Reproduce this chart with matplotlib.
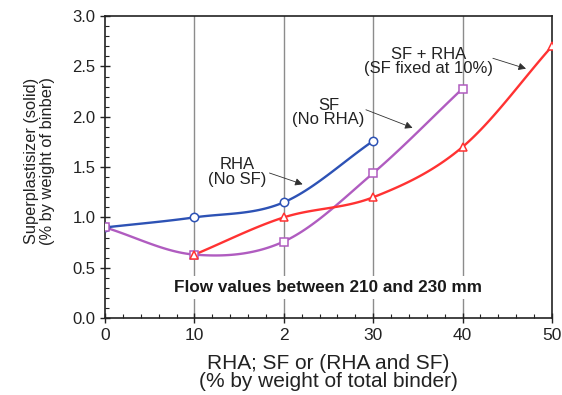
import numpy as np
import matplotlib
matplotlib.use("Agg")
import matplotlib.pyplot as plt
from matplotlib.ticker import MultipleLocator

plt.rcParams['font.family'] = ['Liberation Sans', 'DejaVu Sans']

# data
rha_x = [0, 10, 20, 30]
rha_y = [0.9, 1.0, 1.15, 1.76]
sf_x = [0, 10, 20, 30, 40]
sf_y = [0.9, 0.63, 0.76, 1.44, 2.28]
mix_x = [10, 20, 30, 40, 50]
mix_y = [0.63, 1.0, 1.2, 1.7, 2.7]
xtick_vals = [0, 10, 20, 30, 40, 50]
xtick_labels = ['0', '10', '2', '30', '40', '50']


def smooth(x, y, n=30):
    # catmull-rom curve through the points, only for drawing the line
    x = np.asarray(x, float)
    y = np.asarray(y, float)
    px = np.concatenate([[2 * x[0] - x[1]], x, [2 * x[-1] - x[-2]]])
    py = np.concatenate([[2 * y[0] - y[1]], y, [2 * y[-1] - y[-2]]])
    xs, ys = [], []
    t = np.linspace(0, 1, n)
    for i in range(1, len(px) - 2):
        for p, out in ((px, xs), (py, ys)):
            p0, p1, p2, p3 = p[i - 1], p[i], p[i + 1], p[i + 2]
            out.extend(0.5 * (2 * p1 + (-p0 + p2) * t
                              + (2 * p0 - 5 * p1 + 4 * p2 - p3) * t ** 2
                              + (-p0 + 3 * p1 - 3 * p2 + p3) * t ** 3))
    return xs, ys


fig = plt.figure(figsize=(5.62, 3.95), dpi=100)
ax = fig.add_axes([0.187, 0.195, 0.795, 0.764])

for gx in [10, 20, 30, 40]:
    ax.axvline(gx, color='#8c8c8c', lw=1.0, zorder=1)

series = [
    (rha_x, rha_y, '#2d52b5', 'o'),
    (sf_x, sf_y, '#b05cc0', 's'),
    (mix_x, mix_y, '#ff3232', '^'),
]
for xs, ys, col, mk in series:
    sx, sy = smooth(xs, ys)
    ax.plot(sx, sy, color=col, lw=1.7, zorder=3)
    ax.plot(xs, ys, ls='none', marker=mk, ms=6, mfc='white', mec=col,
            mew=1.1, zorder=4)

ax.text(25.0, 0.3, 'Flow values between 210 and 230 mm', ha='center',
        va='center', fontsize=12.3, fontweight='bold', color='#1a1a1a',
        zorder=2, bbox=dict(facecolor='white', edgecolor='none', pad=3))

arrow = dict(arrowstyle='-|>', color='#303030', lw=0.6, mutation_scale=11)
ax.annotate('', xy=(22.4, 1.32), xytext=(18.1, 1.45), arrowprops=arrow)
ax.text(14.8, 1.45, 'RHA\n(No SF)', ha='center', va='center', fontsize=12,
        linespacing=0.95, color='#222222')
ax.annotate('', xy=(34.7, 1.88), xytext=(28.9, 2.08), arrowprops=arrow)
ax.text(25.0, 2.04, 'SF\n(No RHA)', ha='center', va='center', fontsize=12,
        linespacing=0.95, color='#222222')
ax.annotate('', xy=(47.4, 2.47), xytext=(43.1, 2.59), arrowprops=arrow)
ax.text(36.2, 2.55, 'SF + RHA\n(SF fixed at 10%)', ha='center', va='center',
        fontsize=12, linespacing=0.95, color='#222222')

ax.set_xlim(0, 50)
ax.set_ylim(0, 3.0)
ax.set_xticks(xtick_vals)
ax.set_xticklabels(xtick_labels)
ax.xaxis.set_minor_locator(MultipleLocator(2))
ax.yaxis.set_major_locator(MultipleLocator(0.5))
ax.yaxis.set_minor_locator(MultipleLocator(0.1))
ax.yaxis.set_major_formatter(plt.FormatStrFormatter('%.1f'))
ax.tick_params(which='major', direction='inout', length=7, width=1,
               colors='#222222')
ax.tick_params(axis='x', which='major', labelsize=12.5)
ax.tick_params(axis='y', which='major', labelsize=12)
ax.tick_params(which='minor', direction='in', length=3, width=0.8,
               colors='#222222')
ax.tick_params(top=False, right=False, which='both')
for s in ax.spines.values():
    s.set_linewidth(1.2)
    s.set_color('#222222')

ax.set_xlabel('RHA; SF or (RHA and SF)\n(% by weight of total binder)',
              fontsize=15, linespacing=0.95, labelpad=8, color='#222222')
ax.set_ylabel('Superplastisizer (solid)\n(% by weight of binber)',
              fontsize=11.8, linespacing=1.1, color='#222222')
ax.yaxis.set_label_coords(-0.112, 0.52)

fig.savefig('out.png', dpi=100)
